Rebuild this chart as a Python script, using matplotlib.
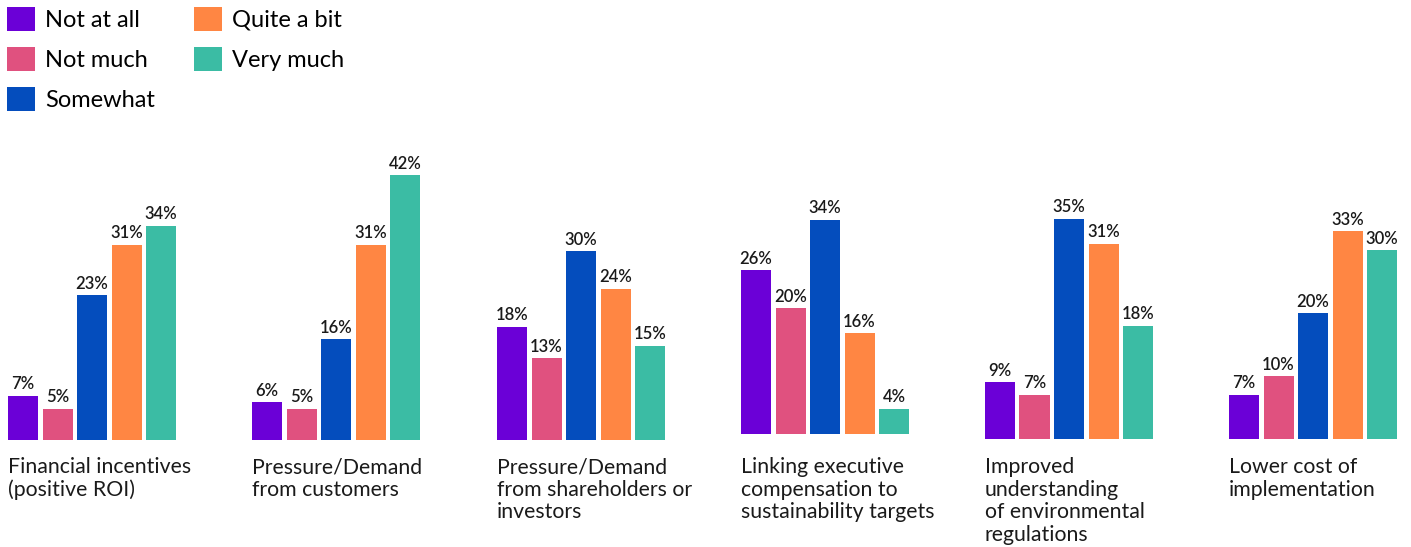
import matplotlib.pyplot as plt
from matplotlib.patches import Patch

plt.rcParams['font.family'] = ['Lato', 'DejaVu Sans']

categories = ['Financial incentives\n(positive ROI)',
              'Pressure/Demand\nfrom customers',
              'Pressure/Demand\nfrom shareholders or\ninvestors',
              'Linking executive\ncompensation to\nsustainability targets',
              'Improved\nunderstanding\nof environmental\nregulations',
              'Lower cost of\nimplementation']
levels = ['Not at all', 'Not much', 'Somewhat', 'Quite a bit', 'Very much']
values = [[7, 5, 23, 31, 34],
          [6, 5, 16, 31, 42],
          [18, 13, 30, 24, 15],
          [26, 20, 34, 16, 4],
          [9, 7, 35, 31, 18],
          [7, 10, 20, 33, 30]]
colors = ['#6B00D7', '#E0517F', '#044DBD', '#FF8643', '#3BBCA4']

W, H = 1411, 547
fig = plt.figure(figsize=(W / 100, H / 100), dpi=100)

# layout in pixels
group_left = [8, 252, 497, 741, 985, 1229]
baseline = [440, 440, 440, 434, 439, 439]
pitch = 34.5
bw = 0.87
px_per_pct = 6.3
ymax = 45

for g, vals in enumerate(values):
    ax = fig.add_axes([group_left[g] / W, (H - baseline[g]) / H,
                       (4 + bw) * pitch / W, ymax * px_per_pct / H])
    xs = range(len(vals))
    ax.bar(xs, vals, width=bw, color=colors)
    for x, v in zip(xs, vals):
        ax.annotate(f'{v}%', (x, v), xytext=(0, 2.5), textcoords='offset points',
                    ha='center', va='bottom', fontsize=12, fontweight='semibold',
                    color='#1a1a1a')
    ax.set_xlim(-bw / 2, 4 + bw / 2)
    ax.set_ylim(0, ymax)
    ax.axis('off')
    fig.text(group_left[g] / W, 1 - 457 / H, categories[g], ha='left', va='top',
             fontsize=15.3, color='#1a1a1a', linespacing=1.16)

handles = [Patch(facecolor=c, label=l) for c, l in zip(colors, levels)]
fig.legend(handles=handles, ncol=2, loc='upper left', bbox_to_anchor=(0.0, 1.0),
           frameon=False, fontsize=17, handlelength=1.17, handleheight=1.17,
           handletextpad=0.45, labelspacing=0.68, columnspacing=1.65,
           borderaxespad=0.2, borderpad=0.1)

fig.savefig('out.png', dpi=100)
